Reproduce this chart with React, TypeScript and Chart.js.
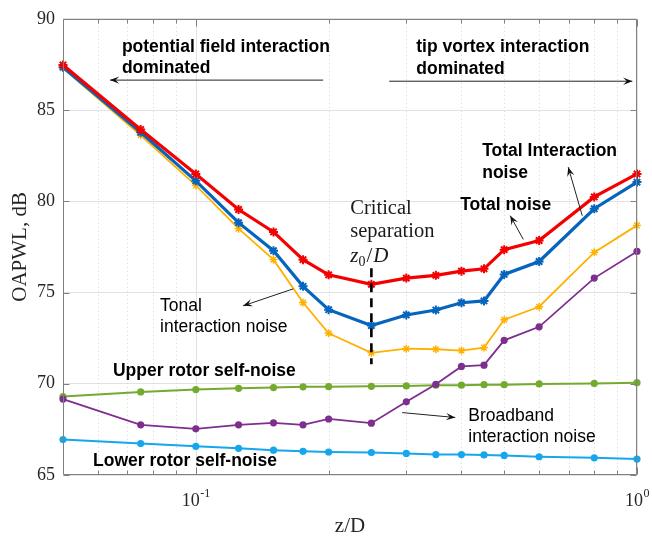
import React, { useEffect, useRef } from 'react';
import { Chart, registerables } from 'chart.js';

Chart.register(...registerables);

// ---------- data ----------
const zOverD = [0.05, 0.075, 0.1, 0.125, 0.15, 0.175, 0.2, 0.25, 0.3, 0.35, 0.4, 0.45, 0.5, 0.6, 0.8, 1.0];
const totalNoise = [87.47, 83.93, 81.5, 79.55, 78.32, 76.8, 75.97, 75.45, 75.79, 75.94, 76.17, 76.3, 77.35, 77.85, 80.24, 81.5];
const totalInteractionNoise = [87.35, 83.78, 81.12, 78.83, 77.29, 75.34, 74.06, 73.19, 73.77, 74.04, 74.44, 74.54, 75.99, 76.7, 79.59, 81.05];
const tonalInteractionNoise = [87.29, 83.62, 80.87, 78.5, 76.8, 74.45, 72.77, 71.69, 71.92, 71.89, 71.82, 71.98, 73.51, 74.22, 77.2, 78.68];
const broadbandInteractionNoise = [69.16, 67.75, 67.53, 67.75, 67.86, 67.75, 68.07, 67.84, 69.01, 69.97, 70.95, 71.02, 72.38, 73.12, 75.79, 77.25];
const upperRotorSelfNoise = [69.3, 69.55, 69.68, 69.75, 69.79, 69.83, 69.84, 69.86, 69.88, 69.92, 69.92, 69.95, 69.95, 69.99, 70.02, 70.06];
const lowerRotorSelfNoise = [66.94, 66.72, 66.57, 66.46, 66.36, 66.3, 66.26, 66.23, 66.18, 66.12, 66.12, 66.1, 66.07, 66.0, 65.94, 65.87];

const yTicks = [65, 70, 75, 80, 85, 90];
const xMajorTicks = [0.1, 1];
const xMajorBase = ['10', '10'];
const xMajorExp = ['-1', '0'];
const xMinorTicks = [0.06, 0.07, 0.08, 0.09, 0.2, 0.3, 0.4, 0.5, 0.6, 0.7, 0.8, 0.9];
const criticalSeparation = 0.25;
const criticalLineRange = [76.33, 71.07];

// annotation texts (anchored in data coordinates)
const textNotes = [
  { lines: ['potential field interaction', 'dominated'], x: 0.068, y: [88.16, 87.03], bold: true },
  { lines: ['tip vortex interaction', 'dominated'], x: 0.316, y: [88.16, 86.96], bold: true },
  { lines: ['Total Interaction', 'noise'], x: 0.4458, y: [82.46, 81.27], bold: true },
  { lines: ['Total noise'], x: 0.3974, y: [79.53], bold: true },
  { lines: ['Tonal', 'interaction noise'], x: 0.083, y: [74.0, 72.81], bold: false },
  { lines: ['Upper rotor self-noise'], x: 0.0649, y: [70.42], bold: true },
  { lines: ['Lower rotor self-noise'], x: 0.0585, y: [65.49], bold: true },
  { lines: ['Broadband', 'interaction noise'], x: 0.4145, y: [67.98, 66.79], bold: false },
];
const criticalNote = { lines: ['Critical', 'separation'], x: 0.2239, y: [79.32, 78.02, 76.66] };

const arrowNotes = [
  { from: [0.1944, 86.64], to: [0.0639, 86.64] },
  { from: [0.2744, 86.58], to: [0.976, 86.58] },
  { from: [0.7515, 79.21], to: [0.6984, 81.87] },
  { from: [0.5524, 77.91], to: [0.5161, 79.21] },
  { from: [0.1662, 75.2], to: [0.128, 74.27] },
  { from: [0.2936, 68.42], to: [0.3873, 68.15] },
];

const SERIF = '"Liberation Serif", "Times New Roman", serif';
const SANS = '"Liberation Sans", Arial, Helvetica, sans-serif';

const pts = (ys: number[]) => zOverD.map((x, i) => ({ x, y: ys[i] }));

const framePlugin = {
  id: 'matlabFrame',
  beforeDatasetsDraw(chart: any) {
    const { ctx, chartArea: a, scales } = chart;
    const xs = scales.x;
    ctx.save();
    ctx.lineWidth = 1;
    xMajorTicks.forEach((v) => {
      const px = Math.round(xs.getPixelForValue(v)) + 0.5;
      ctx.strokeStyle = '#e2e2e2';
      ctx.setLineDash([]);
      ctx.beginPath();
      ctx.moveTo(px, a.top);
      ctx.lineTo(px, a.bottom);
      ctx.stroke();
    });
    xMinorTicks.forEach((v) => {
      const px = Math.round(xs.getPixelForValue(v)) + 0.5;
      ctx.strokeStyle = '#d4d4d4';
      ctx.setLineDash([1, 3]);
      ctx.beginPath();
      ctx.moveTo(px, a.top);
      ctx.lineTo(px, a.bottom);
      ctx.stroke();
    });
    ctx.restore();
  },
  afterDatasetsDraw(chart: any) {
    const { ctx, chartArea: a, scales } = chart;
    const xs = scales.x;
    const ys = scales.y;
    ctx.save();
    ctx.strokeStyle = '#000';
    ctx.lineWidth = 2.6;
    ctx.setLineDash([9, 6]);
    const cx = xs.getPixelForValue(criticalSeparation);
    ctx.beginPath();
    ctx.moveTo(cx, ys.getPixelForValue(criticalLineRange[0]));
    ctx.lineTo(cx, ys.getPixelForValue(criticalLineRange[1]));
    ctx.stroke();
    ctx.setLineDash([]);

    const L = Math.round(a.left) + 0.5;
    const R = Math.round(a.right) - 0.5;
    const T = Math.round(a.top) + 0.5;
    const B = Math.round(a.bottom) - 0.5;
    ctx.strokeStyle = '#808080';
    ctx.lineWidth = 1;
    ctx.beginPath();
    ctx.moveTo(L, T);
    ctx.lineTo(R, T);
    ctx.lineTo(R, B);
    ctx.lineTo(L, B);
    ctx.closePath();
    ctx.stroke();
    ctx.beginPath();
    yTicks.forEach((v) => {
      const py = Math.round(ys.getPixelForValue(v)) + 0.5;
      ctx.moveTo(L, py);
      ctx.lineTo(L + 6, py);
      ctx.moveTo(R, py);
      ctx.lineTo(R - 6, py);
    });
    [...xMinorTicks, ...xMajorTicks].forEach((v) => {
      const px = Math.round(xs.getPixelForValue(v)) + 0.5;
      const len = xMajorTicks.includes(v) ? 7 : 4;
      ctx.moveTo(px, B);
      ctx.lineTo(px, B - len);
      ctx.moveTo(px, T);
      ctx.lineTo(px, T + len);
    });
    ctx.stroke();

    ctx.fillStyle = '#262626';
    ctx.textBaseline = 'alphabetic';
    xMajorTicks.forEach((v, i) => {
      const px = xs.getPixelForValue(v);
      ctx.font = `18px ${SERIF}`;
      const wb = ctx.measureText(xMajorBase[i]).width;
      ctx.font = `12px ${SERIF}`;
      const we = ctx.measureText(xMajorExp[i]).width;
      const start = px - (wb + we) / 2;
      const base = a.bottom + 31;
      ctx.font = `18px ${SERIF}`;
      ctx.textAlign = 'left';
      ctx.fillText(xMajorBase[i], start, base);
      ctx.font = `12px ${SERIF}`;
      ctx.fillText(xMajorExp[i], start + wb + 0.5, base - 9);
    });
    ctx.restore();
  },
  afterDraw(chart: any) {
    const { ctx, scales } = chart;
    const xs = scales.x;
    const ys = scales.y;
    ctx.save();
    ctx.fillStyle = '#000';
    ctx.textAlign = 'left';
    ctx.textBaseline = 'alphabetic';
    textNotes.forEach((n) => {
      ctx.font = `${n.bold ? 'bold ' : ''}17.5px ${SANS}`;
      const px = xs.getPixelForValue(n.x);
      n.lines.forEach((t, i) => ctx.fillText(t, px, ys.getPixelForValue(n.y[i])));
    });
    ctx.fillStyle = '#1a1a1a';
    const cx = xs.getPixelForValue(criticalNote.x);
    ctx.font = `20.5px ${SERIF}`;
    criticalNote.lines.forEach((t, i) => ctx.fillText(t, cx, ys.getPixelForValue(criticalNote.y[i])));
    const by = ys.getPixelForValue(criticalNote.y[2]);
    let cur = cx;
    ctx.font = `italic 21px ${SERIF}`;
    ctx.fillText('z', cur, by);
    cur += ctx.measureText('z').width;
    ctx.font = `14px ${SERIF}`;
    ctx.fillText('0', cur, by + 4);
    cur += ctx.measureText('0').width + 1;
    ctx.font = `21px ${SERIF}`;
    ctx.fillText('/', cur, by);
    cur += ctx.measureText('/').width + 1;
    ctx.font = `italic 21px ${SERIF}`;
    ctx.fillText('D', cur, by);

    ctx.strokeStyle = '#222';
    ctx.lineWidth = 1;
    arrowNotes.forEach((ar) => {
      const x1 = xs.getPixelForValue(ar.from[0]);
      const y1 = ys.getPixelForValue(ar.from[1]);
      const x2 = xs.getPixelForValue(ar.to[0]);
      const y2 = ys.getPixelForValue(ar.to[1]);
      const ang = Math.atan2(y2 - y1, x2 - x1);
      ctx.beginPath();
      ctx.moveTo(x1, y1);
      ctx.lineTo(x2, y2);
      ctx.stroke();
      const hl = 10;
      const hw = 0.38;
      ctx.fillStyle = '#111';
      ctx.beginPath();
      ctx.moveTo(x2, y2);
      ctx.lineTo(x2 - hl * Math.cos(ang - hw), y2 - hl * Math.sin(ang - hw));
      ctx.lineTo(x2 - hl * 0.55 * Math.cos(ang), y2 - hl * 0.55 * Math.sin(ang));
      ctx.lineTo(x2 - hl * Math.cos(ang + hw), y2 - hl * Math.sin(ang + hw));
      ctx.closePath();
      ctx.fill();
    });
    ctx.restore();
  },
};

export default function App() {
  const ref = useRef<HTMLCanvasElement | null>(null);

  useEffect(() => {
    document.body.style.margin = '0';
    const canvas = ref.current;
    if (!canvas) return;
    const starSet = (label: string, data: number[], color: string, w: number, r: number, pw: number) => ({
      label,
      data: pts(data),
      borderColor: color,
      backgroundColor: color,
      borderWidth: w,
      pointStyle: 'star' as const,
      pointRadius: r,
      pointBorderWidth: pw,
      pointBorderColor: color,
      tension: 0,
      clip: 10,
    });
    const dotSet = (label: string, data: number[], color: string, w: number, r: number) => ({
      label,
      data: pts(data),
      borderColor: color,
      backgroundColor: color,
      borderWidth: w,
      pointStyle: 'circle' as const,
      pointRadius: r,
      pointBorderWidth: 0,
      pointBackgroundColor: color,
      tension: 0,
      clip: 10,
    });
    const chart = new Chart(canvas, {
      type: 'line',
      data: {
        datasets: [
          starSet('Total noise', totalNoise, '#f40000', 3.2, 4.5, 2),
          starSet('Total interaction noise', totalInteractionNoise, '#0565be', 3.2, 4.5, 2),
          starSet('Tonal interaction noise', tonalInteractionNoise, '#ffb100', 1.8, 4, 1.4),
          dotSet('Broadband interaction noise', broadbandInteractionNoise, '#7e2f8e', 1.8, 3.6),
          dotSet('Upper rotor self-noise', upperRotorSelfNoise, '#74aa2e', 2, 3.6),
          dotSet('Lower rotor self-noise', lowerRotorSelfNoise, '#16a6ec', 2, 3.6),
        ],
      },
      options: {
        animation: false,
        responsive: false,
        devicePixelRatio: 1,
        layout: { padding: { top: 14, right: 15, left: 0, bottom: 0 } },
        plugins: { legend: { display: false }, tooltip: { enabled: false }, title: { display: false } },
        scales: {
          x: {
            type: 'logarithmic',
            min: 0.05,
            max: 1,
            grid: { display: false },
            border: { display: false },
            ticks: { display: false },
            title: {
              display: true,
              text: 'z/D',
              color: '#262626',
              font: { family: SERIF, size: 21 },
              padding: { top: 0, bottom: -1 },
            },
            afterFit: (s: any) => {
              s.height = 63;
            },
          },
          y: {
            type: 'linear',
            min: 65,
            max: 90,
            ticks: {
              stepSize: 5,
              color: '#262626',
              font: { family: SERIF, size: 18 },
              padding: 8,
            },
            grid: { color: '#e2e2e2', drawTicks: false, lineWidth: 1 },
            border: { display: false },
            title: {
              display: true,
              text: 'OAPWL, dB',
              color: '#262626',
              font: { family: SERIF, size: 21 },
              padding: { top: 8, bottom: 0 },
            },
            afterFit: (s: any) => {
              s.width = 63;
            },
          },
        },
      },
      plugins: [framePlugin],
    } as any);
    return () => chart.destroy();
  }, []);

  return (
    <div style={{ position: 'absolute', left: 0, top: 0, width: 652, height: 538, background: '#fff' }}>
      <canvas ref={ref} width={652} height={538} style={{ display: 'block', width: 652, height: 538 }} />
    </div>
  );
}
